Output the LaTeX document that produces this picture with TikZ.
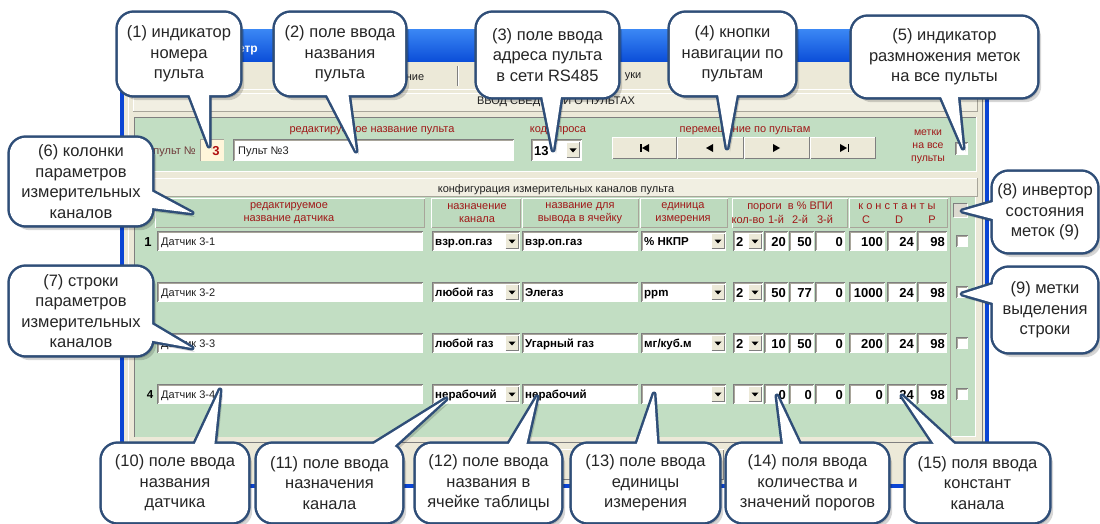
\documentclass[tikz,border=0pt]{standalone}
\usepackage{fontspec}
\setmainfont{Liberation Sans}
\usetikzlibrary{calc}
\definecolor{winbg}{HTML}{ECE9D8}
\definecolor{hdrbg}{HTML}{F1EFE2}
\definecolor{pgreen}{HTML}{C2DEC3}
\definecolor{hgreen}{HTML}{BDDABE}
\definecolor{lblred}{HTML}{A01818}
\definecolor{pultc}{HTML}{6E3A3A}
\definecolor{winblue}{HTML}{0B45D4}
\definecolor{titleA}{HTML}{3A86F4}
\definecolor{titleB}{HTML}{0A4DD8}
\definecolor{cbordc}{HTML}{2F4E78}
\definecolor{ctextc}{HTML}{262626}
\definecolor{dkgray}{HTML}{7F7F7F}
\definecolor{midgray}{HTML}{A8A59A}
\definecolor{uitext}{HTML}{202020}
\definecolor{indbg}{HTML}{FFF6DA}
\definecolor{indred}{HTML}{B01010}
\definecolor{chkgray}{HTML}{DCDAD0}
\pgfdeclarelayer{ui}
\pgfdeclarelayer{cshadow}
\pgfdeclarelayer{cbord}
\pgfdeclarelayer{cfill}
\pgfsetlayers{ui,cshadow,cbord,cfill,main}
\newcommand\cfnt{\fontsize{16.5}{20.5}\selectfont}
\newcommand\ufnt{\fontsize{11}{13}\selectfont}
\newcommand\bfnt{\fontsize{11.5}{13}\selectfont\bfseries}
\newcommand\nfnt{\fontsize{13}{15}\selectfont\bfseries}
\tikzset{
  ctxt/.style={align=center, font=\cfnt, text=ctextc, inner sep=0pt},
  lbl/.style={font=\ufnt, text=lblred, inner sep=0pt},
  uit/.style={font=\ufnt, text=uitext, inner sep=0pt},
  bval/.style={font=\bfnt, text=black, inner sep=0pt},
  nval/.style={font=\nfnt, text=black, inner sep=0pt},
  cline/.style={draw=cbordc, line width=5pt, line join=round},
  cshad/.style={fill=black, opacity=0.16}
}
% sunken white field
\newcommand\sunk[4]{%
  \fill[white] (#1,#2) rectangle (#3,#4);
  \draw[dkgray] (#1+0.5,#4) -- (#1+0.5,#2+0.5) -- (#3,#2+0.5);
  \draw[midgray] (#1+1.5,#4-1) -- (#1+1.5,#2+1.5) -- (#3-1,#2+1.5);}
% raised button
\newcommand\raised[4]{%
  \fill[winbg] (#1,#2) rectangle (#3,#4);
  \draw[white] (#1+0.5,#4-0.5) -- (#1+0.5,#2+0.5) -- (#3-0.5,#2+0.5);
  \draw[dkgray] (#1+0.5,#4-0.5) -- (#3-0.5,#4-0.5) -- (#3-0.5,#2+0.5);}
\newcommand\ddarrow[2]{%
  \raised{#1}{#2-8}{#1+14}{#2+8}
  \fill (#1+3.5,#2-1.5) -- (#1+10.5,#2-1.5) -- (#1+7,#2+2.5) -- cycle;}
% callout box
\newcommand\cbox[1]{%
  \begin{pgfonlayer}{cshadow}
  \fill[cshad, rounded corners=16pt] ([shift={(2pt,-3pt)}]#1.south west) rectangle ([shift={(2pt,-3pt)}]#1.north east);
  \fill[cshad, rounded corners=16pt] ([shift={(4pt,-5pt)}]#1.south west) rectangle ([shift={(4pt,-5pt)}]#1.north east);
  \end{pgfonlayer}
  \begin{pgfonlayer}{cbord}
  \draw[cline, rounded corners=16pt] (#1.south west) rectangle (#1.north east);
  \end{pgfonlayer}
  \begin{pgfonlayer}{cfill}
  \fill[white, rounded corners=16pt] (#1.south west) rectangle (#1.north east);
  \end{pgfonlayer}}
% callout pointer: node, anchor, base offset 1, base offset 2, tip
\newcommand\cptr[5]{%
  \begin{pgfonlayer}{cshadow}
  \fill[cshad] ([shift={(#3)},shift={(3pt,-4pt)}]#1.#2) -- ([shift={(3pt,-4pt)}]#5) -- ([shift={(#4)},shift={(3pt,-4pt)}]#1.#2) -- cycle;
  \end{pgfonlayer}
  \begin{pgfonlayer}{cbord}
  \draw[cline] ([shift={(#3)}]#1.#2) -- (#5) -- ([shift={(#4)}]#1.#2) -- cycle;
  \end{pgfonlayer}
  \begin{pgfonlayer}{cfill}
  \fill[white] ([shift={(#3)}]#1.#2) -- (#5) -- ([shift={(#4)}]#1.#2) -- cycle;
  \end{pgfonlayer}}
% table row, left part
\newcommand\rowA[7]{%
  \sunk{157}{#2-10}{423}{#2+10}
  \node[uit, anchor=base west] (r#1n) at (161,#2+4) {#3};
  \sunk{432}{#2-10}{520}{#2+10}
  \node[bval, anchor=base west] (r#1p) at (435,#2+4) {#4};
  \ddarrow{505}{#2}
  \sunk{522}{#2-10}{638}{#2+10}
  \node[bval, anchor=base west] (r#1c) at (525,#2+4) {#5};
  \sunk{641}{#2-10}{726}{#2+10}
  \node[bval, anchor=base west] (r#1u) at (644,#2+4) {#6};
  \ddarrow{711}{#2}
  \sunk{733}{#2-10}{763}{#2+10}
  \node[nval, anchor=base west] (r#1k) at (736,#2+5) {#7};
  \ddarrow{748}{#2}}
% table row, right part
\newcommand\rowB[8]{%
  \sunk{764}{#2-10}{788}{#2+10}
  \node[nval, anchor=base east] (r#1a) at (786,#2+5) {#3};
  \sunk{789}{#2-10}{814}{#2+10}
  \node[nval, anchor=base east] (r#1b) at (812,#2+5) {#4};
  \sunk{815}{#2-10}{845}{#2+10}
  \node[nval, anchor=base east] (r#1d) at (843,#2+5) {#5};
  \sunk{849}{#2-10}{885}{#2+10}
  \node[nval, anchor=base east] (r#1e) at (883,#2+5) {#6};
  \sunk{887}{#2-10}{916}{#2+10}
  \node[nval, anchor=base east] (r#1f) at (914,#2+5) {#7};
  \sunk{917}{#2-10}{947}{#2+10}
  \node[nval, anchor=base east] (r#1g) at (945,#2+5) {#8};
  \sunk{956}{#2-6}{968}{#2+6}}
\newcommand\hcell[2]{%
  \fill[hgreen] (#1,198) rectangle (#2,228);
  \draw[white] (#1+0.5,228) -- (#1+0.5,198.5) -- (#2,198.5);
  \draw[midgray] (#1+0.5,227.5) -- (#2-0.5,227.5) -- (#2-0.5,198.5);}
\begin{document}
\begin{tikzpicture}[x=1pt,y=-1pt]
\useasboundingbox (0,0) rectangle (1100,524);
\begin{pgfonlayer}{ui}
\fill[white] (0,0) rectangle (1100,524);
% window
\fill[winbg] (120,62) rectangle (989,488);
\shade[top color=titleA, bottom color=titleB] (120,30) rectangle (989,62);
\node[font=\bfseries\fontsize{12}{14}\selectfont, text=white, anchor=base west, inner sep=0pt] (ttl) at (229,53) {метр};
\draw[winblue, line width=4pt] (122,62) -- (122,486) -- (987,486) -- (987,62);
% tabs
\node[uit, anchor=base] (tab1) at (415,81) {ние};
\draw[dkgray] (457.5,66) -- (457.5,86);
\draw[white] (458.5,66) -- (458.5,86);
\node[uit, anchor=base] (tab2) at (633,79) {уки};
\draw[white] (128,442) -- (128,89) -- (982,89);
\draw[dkgray] (982,89) -- (982,442) -- (128,442);
% header bar 1
\fill[hdrbg] (133,93) rectangle (977,111);
\draw[white] (133,111) -- (133,93) -- (977,93);
\draw[midgray] (977,93) -- (977,111) -- (133,111);
\node[uit, anchor=base] (hdr1) at (556,105) {ВВОД СВЕДЕНИЙ О ПУЛЬТАХ};
% green panel 1
\fill[pgreen] (134,117) rectangle (976,171);
\draw[dkgray] (134,171) -- (134,117) -- (976,117);
\draw[white] (976,117) -- (976,171.5) -- (134,171.5);
\node[lbl, anchor=base] (l1) at (372,132) {редактируемое название пульта};
\node[lbl, anchor=base] (l2) at (558,132) {код опроса};
\node[lbl, anchor=base] (l3) at (745,132) {перемещение по пультам};
\node[lbl, align=center, font=\fontsize{10.5}{13}\selectfont] (l4) at (928,147) {метки\\на все\\пульты};
\node[font=\ufnt, text=pultc, anchor=base east, inner sep=0pt] (l0) at (196,154) {пульт №};
\fill[indbg] (200,139) rectangle (224,161);
\draw[midgray] (200.5,161) -- (200.5,139.5) -- (224,139.5);
\node[nval, text=indred, anchor=base] (ind) at (216,155) {3};
\sunk{233}{139}{514}{161}
\node[uit, anchor=base west] (pname) at (238,154) {Пульт №3};
\sunk{531}{139}{582}{161}
\node[nval, anchor=base west] (code) at (534,155) {13};
\ddarrow{566}{150}
\raised{612}{137}{677}{159}
\raised{677}{137}{744}{159}
\raised{744}{137}{810}{159}
\raised{810}{137}{876}{159}
\fill (640,144) rectangle (641.5,152);
\fill (642,148) -- (649,144) -- (649,152) -- cycle;
\fill (706,148) -- (713,144) -- (713,152) -- cycle;
\fill (780,148) -- (773,144) -- (773,152) -- cycle;
\fill (847,148) -- (840,144) -- (840,152) -- cycle;
\fill (847.5,144) rectangle (849,152);
\sunk{955}{142}{968}{155}
% header bar 2
\fill[hdrbg] (133,178) rectangle (977,196);
\draw[white] (133,196) -- (133,178) -- (977,178);
\draw[midgray] (977,178) -- (977,196) -- (133,196);
\node[uit, anchor=base] (hdr2) at (556,192) {конфигурация измерительных каналов пульта};
% table area
\fill[pgreen] (134,197) rectangle (975,437);
\draw[dkgray] (134,437) -- (134,197);
\draw[midgray] (950.5,197) -- (950.5,437);
\draw[white] (951.5,436.5) -- (975,436.5) -- (975,197);
\hcell{155}{425}
\hcell{431}{521}
\hcell{522}{639}
\hcell{640}{728}
\hcell{732}{848}
\hcell{849}{948}
\node[lbl, anchor=base] (hnum) at (150,221) {\#};
\node[lbl, align=center] (h1) at (289,213) {редактируемое\\название датчика};
\node[lbl, align=center] (h2) at (477,213) {назначение\\канала};
\node[lbl, align=center] (h3) at (580,213) {название для\\вывода в ячейку};
\node[lbl, align=center] (h4) at (683,213) {единица\\измерения};
\node[lbl, anchor=base] (h5) at (790,209) {пороги \ в \% ВПИ};
\node[lbl, anchor=base] (h5a) at (748,223) {кол-во};
\node[lbl, anchor=base] (h5b) at (776,223) {1-й};
\node[lbl, anchor=base] (h5c) at (800,223) {2-й};
\node[lbl, anchor=base] (h5d) at (825,223) {3-й};
\node[lbl, anchor=base] (h6) at (897,209) {к о н с т а н т ы};
\node[lbl, anchor=base] (h6a) at (866,223) {C};
\node[lbl, anchor=base] (h6b) at (899,223) {D};
\node[lbl, anchor=base] (h6c) at (932,223) {P};
\fill[chkgray] (953,203) rectangle (967,217);
\draw[dkgray] (953.5,217) -- (953.5,203.5) -- (967,203.5);
\draw[white] (967,203.5) -- (967,217) -- (953.5,217);
% rows
\node[nval, anchor=base] (n1) at (148,246) {1};
\rowA{1}{241}{Датчик 3-1}{взр.оп.газ}{взр.оп.газ}{\% НКПР}{2}
\rowB{1}{241}{20}{50}{0}{100}{24}{98}
\rowA{2}{292}{Датчик 3-2}{любой газ}{Элегаз}{ppm}{2}
\rowB{2}{292}{50}{77}{0}{1000}{24}{98}
\rowA{3}{343}{Датчик 3-3}{любой газ}{Угарный газ}{мг/куб.м}{2}
\rowB{3}{343}{10}{50}{0}{200}{24}{98}
\node[bval, anchor=base] (n4) at (150,398) {4};
\rowA{4}{394}{Датчик 3-4}{нерабочий}{нерабочий}{}{}
\rowB{4}{394}{0}{0}{0}{0}{24}{98}
% bottom button
\raised{555}{449}{724}{480}
\end{pgfonlayer}
% ---------- callouts ----------
\node[ctxt, minimum width=122pt, minimum height=82pt] (c1) at (179,54) {(1) индикатор\\номера\\пульта};
\cbox{c1}
\coordinate (t1) at (209,146);
\cptr{c1}{south}{9pt,4pt}{30pt,4pt}{t1}
\node[ctxt, minimum width=130pt, minimum height=82pt] (c2) at (340,54) {(2) поле ввода\\названия\\пульта};
\cbox{c2}
\coordinate (t2) at (356,151);
\cptr{c2}{south}{-15pt,4pt}{8pt,4pt}{t2}
\node[ctxt, minimum width=141pt, minimum height=84pt] (c3) at (547.5,55) {(3) поле ввода\\адреса пульта\\в сети RS485};
\cbox{c3}
\coordinate (t3) at (553,150);
\cptr{c3}{south}{-6pt,4pt}{14pt,4pt}{t3}
\node[ctxt, minimum width=125pt, minimum height=82pt] (c4) at (732.5,54) {(4) кнопки\\навигации по\\пультам};
\cbox{c4}
\coordinate (t4) at (727,148);
\cptr{c4}{south}{-15pt,4pt}{5pt,4pt}{t4}
\node[ctxt, minimum width=185pt, minimum height=80pt] (c5) at (944.5,57) {(5) индикатор\\размножения меток\\на все пульты};
\cbox{c5}
\coordinate (t5) at (963,148);
\cptr{c5}{south}{-5pt,4pt}{13pt,4pt}{t5}
\node[ctxt, minimum width=142pt, minimum height=87pt] (c6) at (81,181.5) {(6) колонки\\параметров\\измерительных\\каналов};
\cbox{c6}
\coordinate (t6) at (192,213);
\cptr{c6}{east}{-4pt,-8pt}{-4pt,-26pt}{t6}
\node[ctxt, minimum width=142pt, minimum height=88pt] (c7) at (81,311) {(7) строки\\параметров\\измерительных\\каналов};
\cbox{c7}
\coordinate (t7) at (192,348);
\cptr{c7}{east}{-4pt,-11pt}{-4pt,-29pt}{t7}
\node[ctxt, minimum width=104pt, minimum height=80pt] (c8) at (1045,212) {(8) инвертор\\состояния\\меток (9)};
\cbox{c8}
\coordinate (t8) at (962,211);
\cptr{c8}{west}{4pt,11pt}{4pt,-8pt}{t8}
\node[ctxt, minimum width=104pt, minimum height=84pt] (c9) at (1045,310) {(9) метки\\выделения\\строки};
\cbox{c9}
\coordinate (t9) at (962,294);
\cptr{c9}{west}{4pt,27pt}{4pt,6pt}{t9}
\node[ctxt, minimum width=146pt, minimum height=78pt] (c10) at (175,483) {(10) поле ввода\\названия\\датчика};
\cbox{c10}
\coordinate (t10) at (220,390);
\cptr{c10}{north}{18pt,-4pt}{39pt,-4pt}{t10}
\node[ctxt, minimum width=145pt, minimum height=78pt] (c11) at (329.5,483) {(11) поле ввода\\назначения\\канала};
\cbox{c11}
\coordinate (t11) at (446,399);
\cptr{c11}{north}{38pt,-4pt}{63pt,-4pt}{t11}
\node[ctxt, minimum width=145pt, minimum height=78pt] (c12) at (488.5,483) {(12) поле ввода\\названия в\\ячейке таблицы};
\cbox{c12}
\coordinate (t12) at (537,397);
\cptr{c12}{north}{18pt,-4pt}{37pt,-4pt}{t12}
\node[ctxt, minimum width=147pt, minimum height=78pt] (c13) at (645.5,483) {(13) поле ввода\\единицы\\измерения};
\cbox{c13}
\coordinate (t13) at (654,394);
\cptr{c13}{north}{-10pt,-4pt}{12pt,-4pt}{t13}
\node[ctxt, minimum width=161pt, minimum height=78pt] (c14) at (807.5,483) {(14) поля ввода\\количества и\\значений порогов};
\cbox{c14}
\coordinate (t14) at (777,396);
\cptr{c14}{north}{-24pt,-4pt}{-6pt,-4pt}{t14}
\node[ctxt, minimum width=143pt, minimum height=78pt] (c15) at (977.5,483) {(15) поля ввода\\констант\\канала};
\cbox{c15}
\coordinate (t15) at (902,396);
\cptr{c15}{north}{-41pt,-4pt}{-19pt,-4pt}{t15}
\end{tikzpicture}
\end{document}
